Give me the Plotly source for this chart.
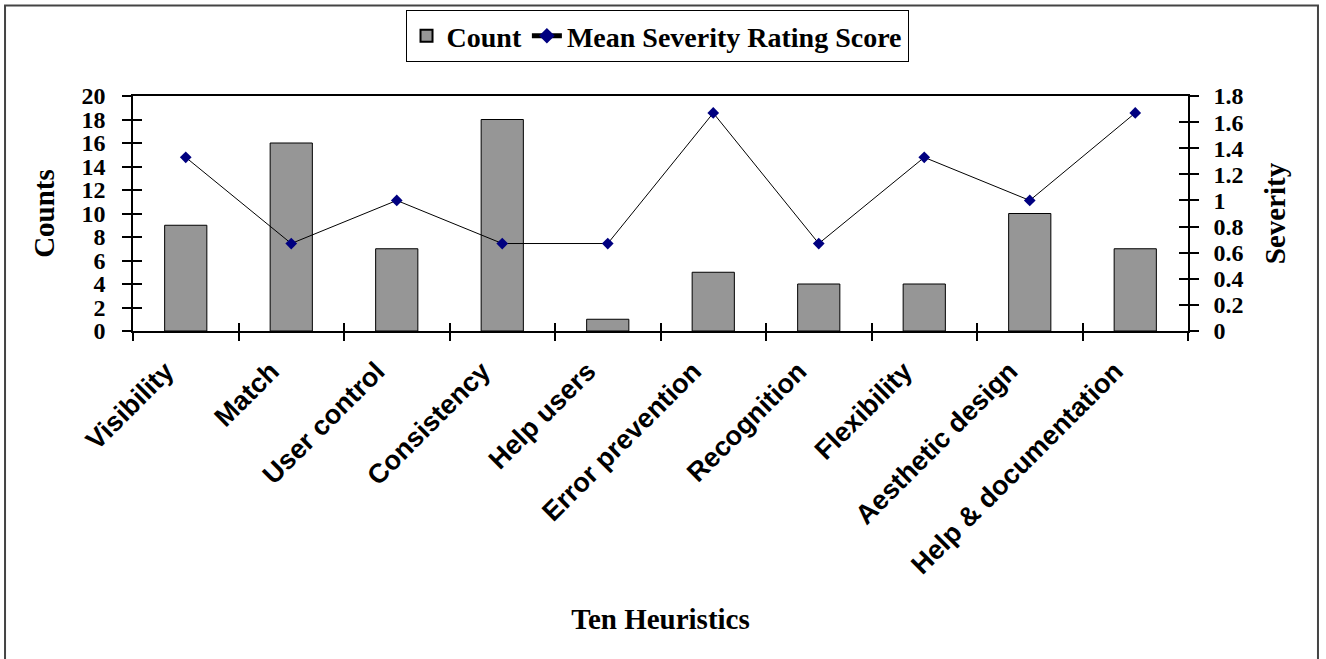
import plotly.graph_objects as go

# Nielsen's ten heuristics: number of problems found and mean severity
heuristics = ["Visibility", "Match", "User control", "Consistency", "Help users",
              "Error prevention", "Recognition", "Flexibility", "Aesthetic design",
              "Help & documentation"]
counts = [9, 16, 7, 18, 1, 5, 4, 4, 10, 7]
severity = [1.33, 0.67, 1.0, 0.67, 0.67, 1.67, 0.67, 1.33, 1.0, 1.67]

count_ticks = [0, 2, 4, 6, 8, 10, 12, 14, 16, 18, 20]
severity_ticks = [0, 0.2, 0.4, 0.6, 0.8, 1.0, 1.2, 1.4, 1.6, 1.8]
severity_tick_text = ["0", "0.2", "0.4", "0.6", "0.8", "1", "1.2", "1.4", "1.6", "1.8"]

SERIF = "Liberation Serif"
SANS = "Liberation Sans"
n = len(heuristics)
boundaries = [i - 0.5 for i in range(n + 1)]

fig = go.Figure()
fig.add_trace(go.Bar(
    x=heuristics, y=counts, name="Count", width=0.4,
    marker=dict(color="#969696", line=dict(color="black", width=1)),
))
fig.add_trace(go.Scatter(
    x=heuristics, y=severity, name="Mean Severity Rating Score",
    mode="lines+markers", yaxis="y2",
    line=dict(color="black", width=1),
    marker=dict(symbol="diamond", size=9, color="#000080"),
))
# empty traces that carry the inner half of the crossing tick marks
fig.add_trace(go.Scatter(x=[None], y=[None], xaxis="x2", yaxis="y3",
                         showlegend=False, hoverinfo="skip"))
fig.add_trace(go.Scatter(x=[None], y=[None], xaxis="x", yaxis="y4",
                         showlegend=False, hoverinfo="skip"))

axis_line = dict(showline=True, linecolor="black", linewidth=1.5,
                 showgrid=False, zeroline=False, tickcolor="black", tickwidth=1.5)

fig.update_layout(
    width=1326, height=659,
    margin=dict(l=133, r=138, t=95, b=328),
    paper_bgcolor="white", plot_bgcolor="white",
    bargap=0.6,
    xaxis=dict(
        type="category", range=[-0.5, n - 0.5], tickson="boundaries",
        ticks="outside", ticklen=8, tickangle=-45, mirror=True,
        ticklabelstandoff=12, ticklabelshift=-20,
        tickfont=dict(family=SANS, size=27, color="black", weight="bold"),
        title=dict(text="Ten Heuristics", standoff=30,
                   font=dict(family=SERIF, size=29, color="black", weight="bold")),
        **axis_line,
    ),
    xaxis2=dict(
        overlaying="x", anchor="y", side="bottom", type="linear",
        range=[-0.5, n - 0.5], tickvals=boundaries, ticks="inside", ticklen=8,
        showticklabels=False, showline=False, showgrid=False, zeroline=False,
        tickcolor="black", tickwidth=1.5,
    ),
    yaxis=dict(
        range=[0, 20], tickvals=count_ticks, ticks="outside", ticklen=9,
        ticklabelstandoff=12,
        tickfont=dict(family=SERIF, size=24, color="black", weight="bold"),
        title=dict(text="Counts", standoff=18,
                   font=dict(family=SERIF, size=29, color="black", weight="bold")),
        **axis_line,
    ),
    yaxis2=dict(
        overlaying="y", side="right", anchor="x", range=[0, 1.8],
        tickvals=severity_ticks, ticktext=severity_tick_text,
        ticks="outside", ticklen=9, ticklabelstandoff=10,
        tickfont=dict(family=SERIF, size=24, color="black", weight="bold"),
        title=dict(text="Severity", standoff=22,
                   font=dict(family=SERIF, size=29, color="black", weight="bold")),
        **axis_line,
    ),
    yaxis3=dict(
        overlaying="y", side="left", anchor="x", range=[0, 20],
        tickvals=count_ticks, ticks="inside", ticklen=9, showticklabels=False,
        showline=False, showgrid=False, zeroline=False,
        tickcolor="black", tickwidth=1.5,
    ),
    yaxis4=dict(
        overlaying="y", side="right", anchor="x", range=[0, 1.8],
        tickvals=severity_ticks, ticks="inside", ticklen=9, showticklabels=False,
        showline=False, showgrid=False, zeroline=False,
        tickcolor="black", tickwidth=1.5,
    ),
    legend=dict(
        orientation="h", x=0.4967, xanchor="center", y=1.36, yanchor="top",
        bgcolor="white", bordercolor="black", borderwidth=1,
        font=dict(family=SERIF, size=28, color="black", weight="bold"),
        itemsizing="constant",
    ),
    shapes=[dict(
        type="rect", xref="paper", yref="paper", layer="below",
        x0=-0.1213, x1=1.1232, y0=-1.45, y1=1.385,
        line=dict(color="#444444", width=2), fillcolor="rgba(0,0,0,0)",
    )],
    showlegend=True,
)

fig.write_html("out.html")
